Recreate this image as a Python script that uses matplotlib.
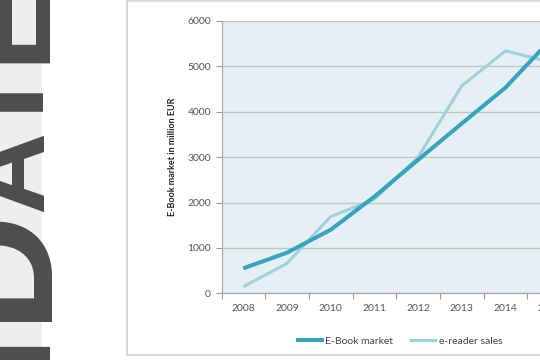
import matplotlib
matplotlib.use("Agg")
import matplotlib.pyplot as plt
from matplotlib.patches import Rectangle

years = ["2008", "2009", "2010", "2011", "2012", "2013", "2014", "2015"]
ebook_market = [550, 895, 1400, 2130, 2940, 3740, 4530, 5550]
ereader_sales = [145, 660, 1690, 2070, 3000, 4570, 5340, 5100]
yticks = [0, 1000, 2000, 3000, 4000, 5000, 6000]

W, H = 540, 360
fig = plt.figure(figsize=(W / 100, H / 100), dpi=100)
fig.patch.set_facecolor("white")

def px(x, y):
    return x / W, 1 - y / H

# logo strip on the left (rotated, cropped)
fig.add_artist(Rectangle((0, 0), 42 / W, 1, transform=fig.transFigure,
                         fc="#eeeeee", ec="none", zorder=0))
logo = [("I", 347, 93), ("D", 262, 118), ("A", 171, 82), ("T", 101, 93), ("E", 20, 93)]
for ch, yc, fs in logo:
    fig.text(*px(42, yc), ch, rotation=90, rotation_mode="anchor",
             ha="center", va="baseline", fontsize=fs, fontweight="bold",
             family="Liberation Sans", color="#4d4d4d", zorder=1)

# chart frame
fig.add_artist(Rectangle(px(127, 355), (W + 20 - 127) / W, 354 / H,
                         transform=fig.transFigure, fc="white",
                         ec="#d2d2d2", lw=1.2, zorder=0.5))

ax = fig.add_axes([221.5 / W, 1 - 293.3 / H, 349.5 / W, 272.4 / H])
ax.set_facecolor("#e6f0f4")
ax.set_zorder(2)

x = list(range(len(years)))
l1, = ax.plot(x, ebook_market, color="#36a4bf", lw=2.9, solid_capstyle="butt", zorder=4)
l2, = ax.plot(x, ereader_sales, color="#9fd0dc", lw=2.2, solid_capstyle="butt", zorder=3)

ax.set_xlim(-0.5, len(years) - 0.5)
ax.set_ylim(0, 6000)
ax.set_yticks(yticks)
ax.set_yticklabels([str(v) for v in yticks])
ax.set_xticks(x)
ax.set_xticklabels(years)
ax.set_xticks([i + 0.5 for i in range(-1, len(years))], minor=True)

for lab in ax.get_xticklabels() + ax.get_yticklabels():
    lab.set_family("Lato")
    lab.set_fontsize(7.5)
    lab.set_color("#555555")

ax.tick_params(axis="x", which="major", length=0, pad=8)
ax.tick_params(axis="x", which="minor", length=4, width=0.8, color="#9a9a9a", direction="out")
ax.tick_params(axis="y", length=4, width=0.8, color="#9a9a9a", pad=3.5)

ax.grid(axis="y", color="#bfc4c6", lw=1.0, zorder=1)
ax.set_axisbelow(True)
for s in ["top", "right"]:
    ax.spines[s].set_visible(False)
for s in ["left", "bottom"]:
    ax.spines[s].set_color("#a8a8a8")
    ax.spines[s].set_linewidth(0.9)

ax.set_ylabel("E-Book market in million EUR", family="Lato", fontweight="bold",
              fontsize=6.5, color="#222222")
ax.yaxis.set_label_coords(-0.127, 0.5)

fig.legend([l1, l2], ["E-Book market", "e-reader sales"], loc="center",
           bbox_to_anchor=px(399, 341), ncol=2, frameon=False,
           prop={"family": "Lato", "size": 7.5}, handlelength=2.7,
           handletextpad=0.15, columnspacing=1.5, labelcolor="#444444")

fig.savefig("out.png", dpi=100)
